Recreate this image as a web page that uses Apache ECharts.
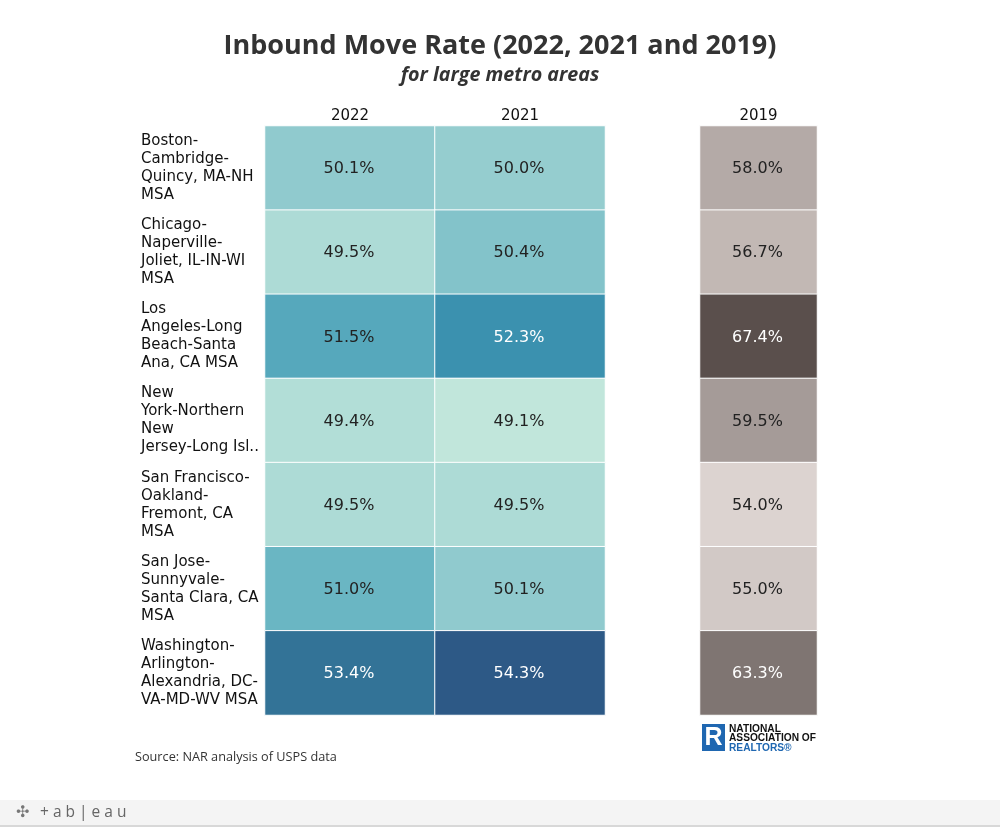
<!DOCTYPE html>
<html><head><meta charset="utf-8">
<script src="https://cdn.jsdelivr.net/npm/echarts@6/dist/echarts.min.js"></script>
<style>html,body{margin:0;padding:0;background:#fff}#c{width:1000px;height:827px}</style>
</head><body><div id="c"></div>
<script>
const metros = [
  "Boston-\nCambridge-\nQuincy, MA-NH\nMSA",
  "Chicago-\nNaperville-\nJoliet, IL-IN-WI\nMSA",
  "Los\nAngeles-Long\nBeach-Santa\nAna, CA MSA",
  "New\nYork-Northern\nNew\nJersey-Long Isl..",
  "San Francisco-\nOakland-\nFremont, CA\nMSA",
  "San Jose-\nSunnyvale-\nSanta Clara, CA\nMSA",
  "Washington-\nArlington-\nAlexandria, DC-\nVA-MD-WV MSA"
];
const yearsRecent = ["2022", "2021"];
const yearsOld = ["2019"];
const rate2022 = [50.1, 49.5, 51.5, 49.4, 49.5, 51.0, 53.4];
const rate2021 = [50.0, 50.4, 52.3, 49.1, 49.5, 50.1, 54.3];
const rate2019 = [58.0, 56.7, 67.4, 59.5, 54.0, 55.0, 63.3];

const recentData = [];
metros.forEach((m, i) => {
  recentData.push([0, i, rate2022[i]]);
  recentData.push([1, i, rate2021[i]]);
});
const oldData = metros.map((m, i) => [0, i, rate2019[i]]);

const FONT = "DejaVu Sans";
function labelFmt(th) {
  return p => {
    const v = p.value[2];
    return (v > th ? '{w|' : '{d|') + v.toFixed(1) + '%}';
  };
}
const rich = {
  w: {color: '#ffffff', fontSize: 16, fontFamily: FONT},
  d: {color: '#222222', fontSize: 16, fontFamily: FONT}
};

const chart = echarts.init(document.getElementById('c'), null, {renderer: 'canvas'});
chart.setOption({
  animation: false,
  backgroundColor: '#ffffff',
  title: [
    {text: 'Inbound Move Rate (2022, 2021 and 2019)', left: 'center', top: 28,
     textStyle: {fontFamily: 'Open Sans', fontWeight: 'bold', fontSize: 27, color: '#333333'}},
    {text: 'for large metro areas', left: 'center', top: 60,
     textStyle: {fontFamily: 'Open Sans', fontWeight: 'bold', fontStyle: 'italic', fontSize: 19.7, color: '#333333'}}
  ],
  grid: [
    {left: 265, top: 126, width: 340, height: 589},
    {left: 700, top: 126, width: 117, height: 589}
  ],
  xAxis: [
    {type: 'category', gridIndex: 0, data: yearsRecent, position: 'top',
     axisLine: {show: false}, axisTick: {show: false}, splitLine: {show: false},
     axisLabel: {fontFamily: FONT, fontSize: 15, color: '#111', margin: 2}},
    {type: 'category', gridIndex: 1, data: yearsOld, position: 'top',
     axisLine: {show: false}, axisTick: {show: false}, splitLine: {show: false},
     axisLabel: {fontFamily: FONT, fontSize: 15, color: '#111', margin: 2}}
  ],
  yAxis: [
    {type: 'category', gridIndex: 0, data: metros, inverse: true,
     axisLine: {show: false}, axisTick: {show: false}, splitLine: {show: false},
     axisLabel: {fontFamily: FONT, fontSize: 15, color: '#111', align: 'left', margin: 124, lineHeight: 18}},
    {type: 'category', gridIndex: 1, data: metros, inverse: true,
     axisLine: {show: false}, axisTick: {show: false}, splitLine: {show: false},
     axisLabel: {show: false}}
  ],
  visualMap: [
    {type: 'continuous', show: false, seriesIndex: 0, dimension: 2, min: 49.1, max: 54.3,
     inRange: {color: ['#c1e6db', '#8ec9cd', '#62b2c1', '#3c93b1', '#34779a', '#2d5986']}},
    {type: 'continuous', show: false, seriesIndex: 1, dimension: 2, min: 54.0, max: 67.4,
     inRange: {color: ['#dcd3d0', '#c2b8b4', '#a69c99', '#8a807d', '#726966', '#5a4f4c']}}
  ],
  series: [
    {type: 'heatmap', xAxisIndex: 0, yAxisIndex: 0, data: recentData,
     itemStyle: {borderColor: '#ffffff', borderWidth: 1},
     label: {show: true, formatter: labelFmt(52), rich: rich, offset: [-1, 1]},
     emphasis: {disabled: true}},
    {type: 'heatmap', xAxisIndex: 1, yAxisIndex: 1, data: oldData,
     itemStyle: {borderColor: '#ffffff', borderWidth: 1},
     label: {show: true, formatter: labelFmt(60), rich: rich, offset: [-1, 1]},
     emphasis: {disabled: true}}
  ],
  graphic: [
    {type: 'text', left: 135, top: 751,
     style: {text: 'Source: NAR analysis of USPS data', fontFamily: 'Open Sans', fontSize: 12.7, fill: '#333'}},
    {type: 'rect', shape: {x: 702, y: 724, width: 23, height: 27}, style: {fill: '#1f67b1'}},
    {type: 'text', x: 713.5, y: 738, style: {text: 'R', fontFamily: 'Liberation Sans', fontWeight: 'bold', fontSize: 25, fill: '#ffffff', align: 'center', verticalAlign: 'middle'}},
    {type: 'text', x: 729, y: 724, style: {text: 'NATIONAL\nASSOCIATION OF', fontFamily: 'Liberation Sans', fontWeight: 'bold', fontSize: 10.2, lineHeight: 9.5, fill: '#111'}},
    {type: 'text', x: 729, y: 743, style: {text: 'REALTORS®', fontFamily: 'Liberation Sans', fontWeight: 'bold', fontSize: 10.2, lineHeight: 9.5, fill: '#1f67b1'}},
    {type: 'rect', shape: {x: 0, y: 800, width: 1000, height: 27}, style: {fill: '#f4f4f4'}},
    {type: 'rect', shape: {x: 0, y: 825, width: 1000, height: 2}, style: {fill: '#d8d8d8'}},
    {type: 'text', x: 16, y: 813, style: {text: '✣', fontFamily: FONT, fontSize: 16, fill: '#777', verticalAlign: 'middle'}},
    {type: 'text', x: 40, y: 813, style: {text: '+ a b | e a u', fontFamily: 'Open Sans', fontSize: 15.5, fill: '#666', verticalAlign: 'middle'}}
  ]
});
</script></body></html>
